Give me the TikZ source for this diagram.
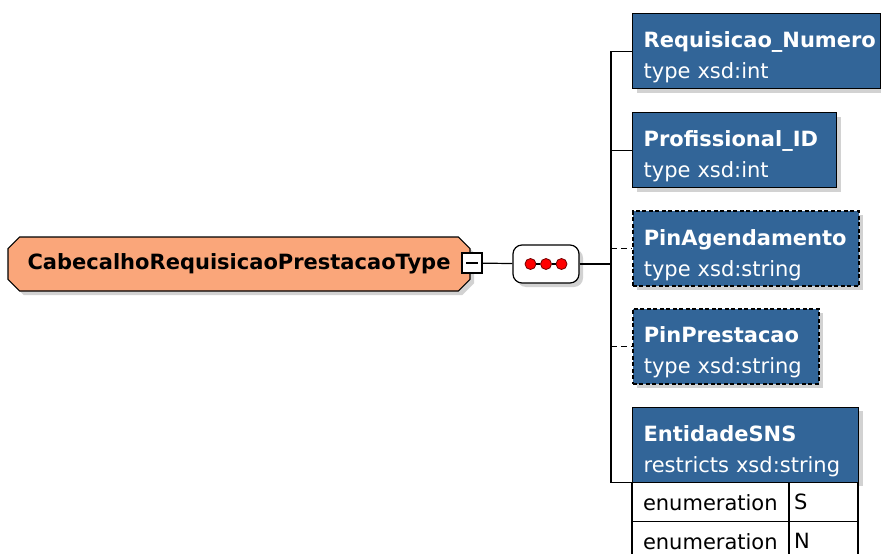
\documentclass[tikz,border=0pt]{standalone}
\usepackage{fontspec}
\setmainfont{DejaVu Sans}
\usetikzlibrary{positioning,shapes.misc,shadows}
\definecolor{elemblue}{RGB}{50,101,152}
\definecolor{typeorange}{RGB}{250,166,122}
\newcommand{\elname}[1]{\rule{0pt}{28pt}\textbf{#1}}

\tikzset{
  shade/.style={drop shadow={shadow xshift=4pt, shadow yshift=-4pt, fill=black!35, opacity=0.5}},
  elem/.style={draw=black, line width=1.2pt, fill=elemblue, text=white, align=left, anchor=north west, minimum height=75pt, inner xsep=11pt, inner ysep=0pt, shade},
  optelem/.style={elem, line width=1.6pt, dash pattern=on 4pt off 2.5pt},
  cell/.style={draw=black, line width=1.2pt, fill=white, align=left, anchor=north west, minimum height=39pt, inner ysep=0pt, outer sep=0pt},
  seqdot/.style={circle, draw=red!45!black, line width=0.8pt, fill=red, minimum size=11pt, inner sep=0pt}
}

\begin{document}
\begin{tikzpicture}[x=1pt, y=-1pt, font=\fontsize{21}{31}\selectfont, line width=1.2pt]
    \useasboundingbox (0,0) rectangle (881,554);

    % Complex type and sequence
    \node[chamfered rectangle, chamfered rectangle xsep=8pt, draw=black, fill=typeorange, minimum width=462pt, minimum height=54pt, shade] (cabecalho) at (239,264) {\textbf{CabecalhoRequisicaoPrestacaoType}};
    \node[draw=black, fill=white, minimum size=20pt, inner sep=0pt] (collapse) at (472,263) {};
    \draw[line width=1.6pt] ([xshift=5pt]collapse.west) -- ([xshift=-5pt]collapse.east);
    \node[draw=black, fill=white, rounded corners=9pt, minimum width=66pt, minimum height=38pt, shade] (seq) at (546,264) {};
    \node[seqdot] (dot1) at (530.5,264) {};
    \node[seqdot] (dot2) at (546,264) {};
    \node[seqdot] (dot3) at (561.5,264) {};
    \draw (dot1) -- (dot2);
    \draw (dot2) -- (dot3);
    \coordinate (fork) at (611,264);

    % Child elements
    \node[elem, text width=226pt] (numero) at (632,13) {\elname{Requisicao\_Numero}\\type xsd:int};
    \node[elem, text width=182pt, below right=23pt and 0pt of numero.south west] (profissional) {\elname{Profissional\_ID}\\type xsd:int};
    \node[optelem, text width=204pt, below right=22pt and 0pt of profissional.south west] (agendamento) {\elname{PinAgendamento}\\type xsd:string};
    \node[optelem, text width=164pt, below right=21pt and 0pt of agendamento.south west] (prestacao) {\elname{PinPrestacao}\\type xsd:string};
    \node[elem, text width=204pt, below right=22pt and 0pt of prestacao.south west] (entidade) {\elname{EntidadeSNS}\\restricts xsd:string};

    % Enumeration table
    \node[cell, text width=135pt, inner xsep=11pt] (enumS) at (entidade.south west) {enumeration};
    \node[cell, text width=59pt, inner xsep=5pt] (valS) at (enumS.north east) {S};
    \node[cell, text width=135pt, inner xsep=11pt] (enumN) at (enumS.south west) {enumeration};
    \node[cell, text width=59pt, inner xsep=5pt] (valN) at (enumN.north east) {N};

    % Connectors
    \draw (collapse) -- (seq);
    \draw (seq) -- (fork);
    \draw (fork) |- (numero.west);
    \draw (fork) |- (entidade.south west);
    \draw (fork |- profissional.west) -- (profissional.west);
    \draw[dash pattern=on 6pt off 4pt] (fork |- agendamento.west) -- (agendamento.west);
    \draw[dash pattern=on 6pt off 4pt] (fork |- prestacao.west) -- (prestacao.west);
\end{tikzpicture}
\end{document}
